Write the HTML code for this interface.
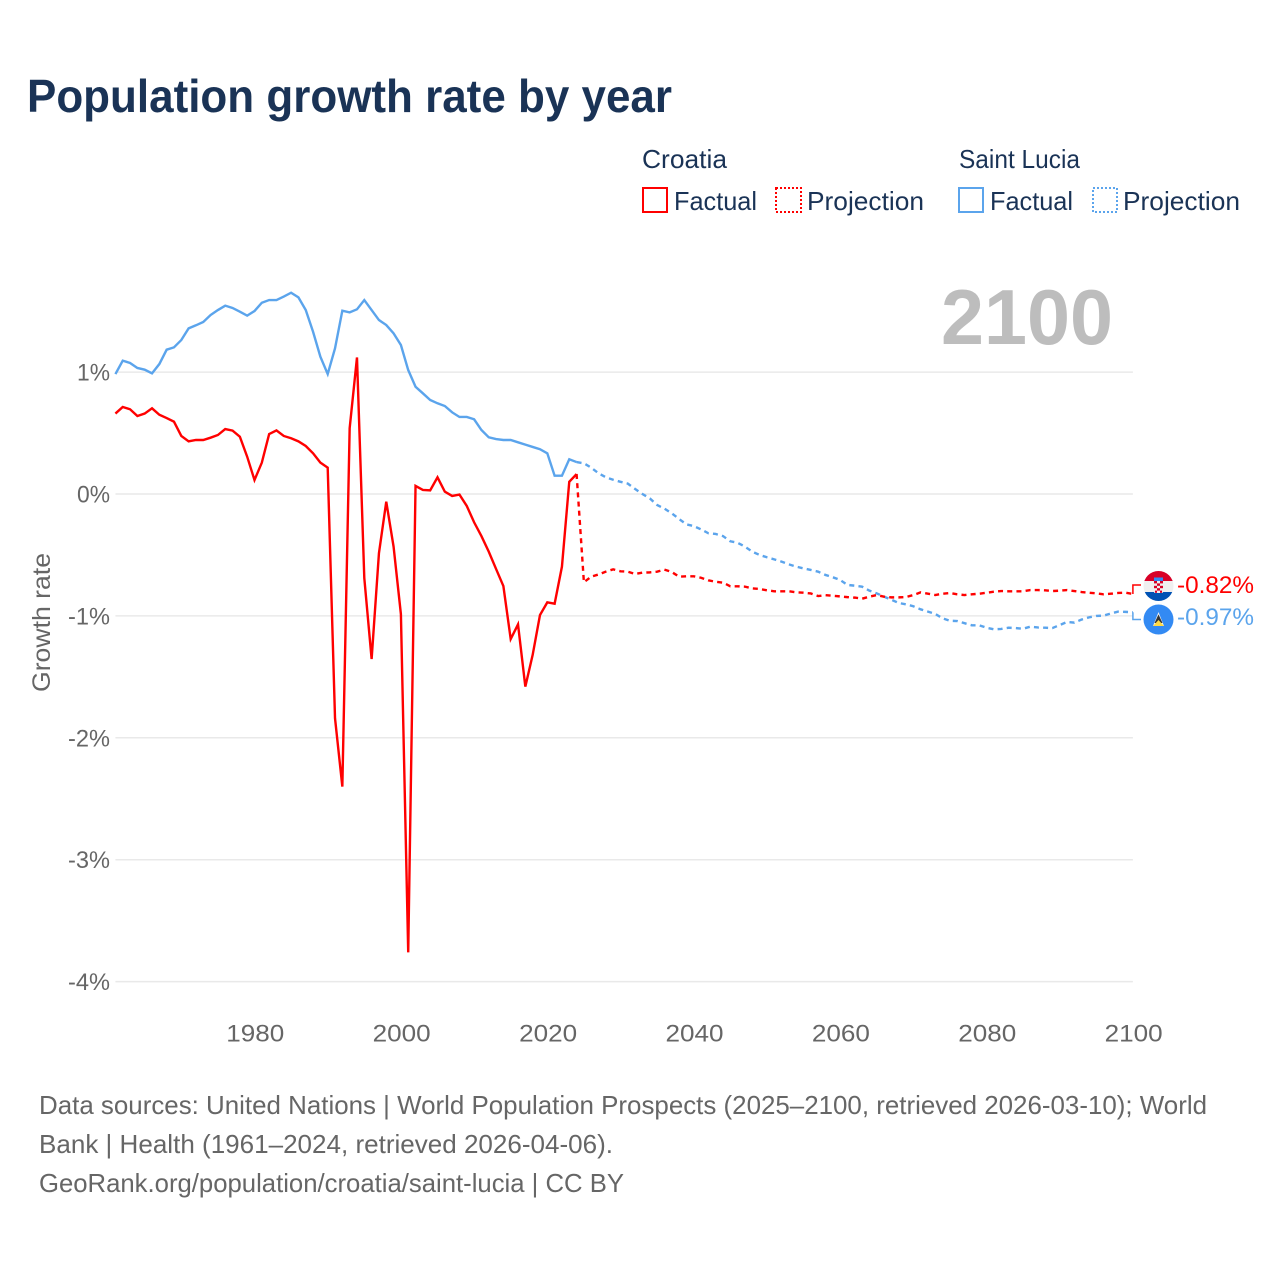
<!DOCTYPE html>
<html lang="en">
<head>
<meta charset="utf-8">
<title>Population growth rate by year</title>
<style>
html,body{margin:0;padding:0;background:#fff;width:1280px;height:1280px;overflow:hidden}
svg{display:block}
text{font-family:"Liberation Sans","DejaVu Sans",sans-serif}
.tick{font-size:24px;fill:#666}
.legend{font-size:26px;fill:#1a3356}
.foot{font-size:26px;fill:#666}
</style>
</head>
<body>
<svg id="chart" xmlns="http://www.w3.org/2000/svg" width="1280" height="1280" viewBox="0 0 1280 1280">
  <text x="27" y="112" font-size="46" font-weight="700" fill="#1a3356" textLength="645" lengthAdjust="spacingAndGlyphs">Population growth rate by year</text>

  <g>
    <text class="legend" x="642" y="168" textLength="85" lengthAdjust="spacingAndGlyphs">Croatia</text>
    <rect x="643" y="188" width="24" height="24" fill="none" stroke="#ff0000" stroke-width="2"/>
    <text class="legend" x="674" y="210" textLength="83" lengthAdjust="spacingAndGlyphs">Factual</text>
    <rect x="776" y="188" width="25" height="24" fill="none" stroke="#ff0000" stroke-width="2" stroke-dasharray="2 2"/>
    <text class="legend" x="807" y="210" textLength="117" lengthAdjust="spacingAndGlyphs">Projection</text>
    <text class="legend" x="959" y="168" textLength="121" lengthAdjust="spacingAndGlyphs">Saint Lucia</text>
    <rect x="959" y="188" width="24" height="24" fill="none" stroke="#5ba4ec" stroke-width="2"/>
    <text class="legend" x="990" y="210" textLength="83" lengthAdjust="spacingAndGlyphs">Factual</text>
    <rect x="1093" y="188" width="24" height="24" fill="none" stroke="#5ba4ec" stroke-width="2" stroke-dasharray="2 2"/>
    <text class="legend" x="1123" y="210" textLength="117" lengthAdjust="spacingAndGlyphs">Projection</text>
  </g>

  <text x="941" y="344" font-size="78" font-weight="700" fill="#bdbdbd" textLength="172" lengthAdjust="spacingAndGlyphs">2100</text>

  <text transform="translate(50,692) rotate(-90)" font-size="25" fill="#666" textLength="139" lengthAdjust="spacingAndGlyphs">Growth rate</text>

  <g id="grid"></g>
  <g id="yticks"></g>
  <g id="xticks"></g>
  <g id="series"></g>
  <g id="ends"></g>

  <defs>
    <clipPath id="clip-hr"><circle cx="1158.5" cy="586" r="15"/></clipPath>
    <clipPath id="clip-lc"><circle cx="1158.5" cy="619.5" r="15"/></clipPath>
  </defs>
  <g clip-path="url(#clip-hr)">
    <rect x="1143" y="571" width="31" height="10" fill="#d80027"/>
    <rect x="1143" y="581" width="31" height="11" fill="#f0f0f0"/>
    <rect x="1143" y="592" width="31" height="9" fill="#0052b4"/>
    <rect x="1154" y="577.5" width="9" height="3.5" fill="#338af3"/>
    <rect x="1154" y="581" width="9" height="12" rx="1" fill="#f0f0f0"/>
    <rect x="1154" y="581" width="3" height="2.4" fill="#d80027"/>
    <rect x="1160" y="581" width="3" height="2.4" fill="#d80027"/>
    <rect x="1157" y="583.4" width="3" height="2.4" fill="#d80027"/>
    <rect x="1154" y="585.8" width="3" height="2.4" fill="#d80027"/>
    <rect x="1160" y="585.8" width="3" height="2.4" fill="#d80027"/>
    <rect x="1157" y="588.2" width="3" height="2.4" fill="#d80027"/>
    <rect x="1155" y="590.6" width="2" height="2.2" fill="#d80027"/>
    <rect x="1160" y="590.6" width="2" height="2.2" fill="#d80027"/>
  </g>
  <g clip-path="url(#clip-lc)">
    <rect x="1143" y="604" width="31" height="31" fill="#338af3"/>
    <polygon points="1158.5,612 1164,626 1153,626" fill="#f0f0f0"/>
    <polygon points="1158.5,614.5 1162.5,623 1154.5,623" fill="#333"/>
    <polygon points="1158.5,620 1164,626 1153,626" fill="#ffda44"/>
  </g>

  <g>
    <text class="foot" x="39" y="1114" textLength="1168" lengthAdjust="spacingAndGlyphs">Data sources: United Nations | World Population Prospects (2025–2100, retrieved 2026-03-10); World</text>
    <text class="foot" x="39" y="1153" textLength="574" lengthAdjust="spacingAndGlyphs">Bank | Health (1961–2024, retrieved 2026-04-06).</text>
    <text class="foot" x="39" y="1192" textLength="585" lengthAdjust="spacingAndGlyphs">GeoRank.org/population/croatia/saint-lucia | CC BY</text>
  </g>
</svg>

<script>
const yTicks = [1, 0, -1, -2, -3, -4];
const yTickLabels = ['1%', '0%', '-1%', '-2%', '-3%', '-4%'];
const xTicks = [1980, 2000, 2020, 2040, 2060, 2080, 2100];
const xTickLabels = ['1980', '2000', '2020', '2040', '2060', '2080', '2100'];
const factualStartYear = 1961;
const projectionStartYear = 2024;

const croatiaFactual = [0.66,0.714,0.695,0.64,0.66,0.703,0.65,0.623,0.593,0.476,0.432,0.443,0.443,0.462,0.484,0.533,0.52,0.47,0.306,0.115,0.257,0.492,0.522,0.476,0.457,0.432,0.394,0.334,0.257,0.216,-1.84,-2.4,0.54,1.12,-0.69,-1.354,-0.486,-0.063,-0.432,-0.985,-3.76,0.066,0.033,0.03,0.137,0.019,-0.016,-0.005,-0.098,-0.232,-0.345,-0.473,-0.615,-0.755,-1.19,-1.07,-1.58,-1.32,-0.993,-0.889,-0.9,-0.596,0.1,0.164];
const croatiaProjection = [0.164,-0.724,-0.678,-0.66,-0.637,-0.618,-0.634,-0.637,-0.656,-0.645,-0.643,-0.637,-0.62,-0.64,-0.678,-0.675,-0.675,-0.687,-0.708,-0.72,-0.727,-0.757,-0.757,-0.76,-0.774,-0.779,-0.79,-0.798,-0.798,-0.798,-0.806,-0.81,-0.816,-0.837,-0.83,-0.835,-0.84,-0.846,-0.85,-0.859,-0.842,-0.829,-0.842,-0.848,-0.848,-0.845,-0.829,-0.807,-0.818,-0.829,-0.818,-0.812,-0.823,-0.829,-0.823,-0.818,-0.81,-0.801,-0.796,-0.798,-0.798,-0.798,-0.788,-0.788,-0.79,-0.796,-0.793,-0.788,-0.796,-0.804,-0.81,-0.815,-0.823,-0.818,-0.812,-0.81,-0.82];
const luciaFactual = [0.984,1.094,1.075,1.034,1.02,0.99,1.066,1.184,1.203,1.263,1.359,1.384,1.411,1.468,1.509,1.545,1.526,1.496,1.463,1.501,1.569,1.591,1.591,1.62,1.651,1.613,1.509,1.331,1.126,0.984,1.195,1.504,1.49,1.515,1.591,1.509,1.427,1.386,1.318,1.222,1.017,0.88,0.826,0.771,0.744,0.722,0.67,0.632,0.632,0.613,0.525,0.465,0.451,0.443,0.443,0.424,0.405,0.386,0.367,0.334,0.15,0.15,0.285,0.262];
const luciaProjection = [0.262,0.252,0.216,0.17,0.137,0.117,0.1,0.085,0.041,0,-0.036,-0.09,-0.12,-0.158,-0.205,-0.249,-0.263,-0.29,-0.322,-0.328,-0.345,-0.388,-0.4,-0.432,-0.473,-0.5,-0.519,-0.536,-0.555,-0.577,-0.596,-0.61,-0.623,-0.637,-0.664,-0.683,-0.705,-0.746,-0.752,-0.76,-0.793,-0.815,-0.842,-0.867,-0.894,-0.905,-0.921,-0.946,-0.965,-0.984,-1.02,-1.04,-1.042,-1.06,-1.077,-1.077,-1.097,-1.11,-1.107,-1.097,-1.1,-1.105,-1.088,-1.095,-1.097,-1.1,-1.075,-1.05,-1.055,-1.03,-1.012,-1,-0.998,-0.98,-0.965,-0.967,-0.97];
const endLabels = ['-0.82%', '-0.97%'];

const SVGNS = 'http://www.w3.org/2000/svg';
function xScale(year) { return 254.5 + (year - 1980) * 7.32; }
function yScale(v) { return 494 - v * 121.9; }
function make(tag, parent, attrs) {
  const el = document.createElementNS(SVGNS, tag);
  for (const k in attrs) el.setAttribute(k, attrs[k]);
  parent.appendChild(el);
  return el;
}
function linePath(values, startYear) {
  return values.map((v, i) => (i ? 'L' : 'M') + xScale(startYear + i).toFixed(2) + ' ' + yScale(v).toFixed(2)).join(' ');
}

const gridG = document.getElementById('grid');
const yG = document.getElementById('yticks');
yTicks.forEach((t, i) => {
  const gl = make('line', gridG, { x1: xScale(1961), x2: xScale(2100), y1: yScale(t), y2: yScale(t), stroke: '#e9e9e9', 'stroke-width': 1.5 });
  
  
  const lab = make('text', yG, { class: 'tick', x: 110, y: yScale(t) + 8.5, 'text-anchor': 'end', textLength: yTickLabels[i].startsWith('-') ? 42 : 33, lengthAdjust: 'spacingAndGlyphs' });
  lab.textContent = yTickLabels[i];
  
  
});

const xG = document.getElementById('xticks');
xTicks.forEach((t, i) => {
  const lab = make('text', xG, { class: 'tick', x: xScale(t) + 0.8, y: 1041.5, 'text-anchor': 'middle', textLength: 58, lengthAdjust: 'spacingAndGlyphs' });
  lab.textContent = xTickLabels[i];
  
  
});

const seriesG = document.getElementById('series');
const RED = '#ff0000';
const BLUE = '#5ba4ec';
const DASH = '5 4.2';

const lucF = make('path', seriesG, { d: linePath(luciaFactual, factualStartYear), fill: 'none', stroke: BLUE, 'stroke-width': 2.4, 'stroke-linejoin': 'miter' });



const lucP = make('path', seriesG, { d: linePath(luciaProjection, projectionStartYear), fill: 'none', stroke: BLUE, 'stroke-width': 2.4, 'stroke-dasharray': DASH });



const croF = make('path', seriesG, { d: linePath(croatiaFactual, factualStartYear), fill: 'none', stroke: RED, 'stroke-width': 2.4, 'stroke-linejoin': 'miter' });



const croP = make('path', seriesG, { d: linePath(croatiaProjection, projectionStartYear), fill: 'none', stroke: RED, 'stroke-width': 2.4, 'stroke-dasharray': DASH });



const endsG = document.getElementById('ends');
const x2100 = xScale(2100);
const croLast = yScale(croatiaProjection[croatiaProjection.length - 1]);
const lucLast = yScale(luciaProjection[luciaProjection.length - 1]);

const c1 = make('path', endsG, { d: 'M' + x2100 + ' ' + croLast + ' V585 H1141', fill: 'none', stroke: RED, 'stroke-width': 1.5 });



const c2 = make('path', endsG, { d: 'M' + x2100 + ' ' + lucLast + ' V619.5 H1141', fill: 'none', stroke: BLUE, 'stroke-width': 1.5 });



const l1 = make('text', endsG, { x: 1177, y: 593, 'font-size': 24, fill: RED, textLength: 77, lengthAdjust: 'spacingAndGlyphs' });
l1.textContent = endLabels[0];



const l2 = make('text', endsG, { x: 1177, y: 625, 'font-size': 24, fill: BLUE, textLength: 77, lengthAdjust: 'spacingAndGlyphs' });
l2.textContent = endLabels[1];


</script>
</body>
</html>
